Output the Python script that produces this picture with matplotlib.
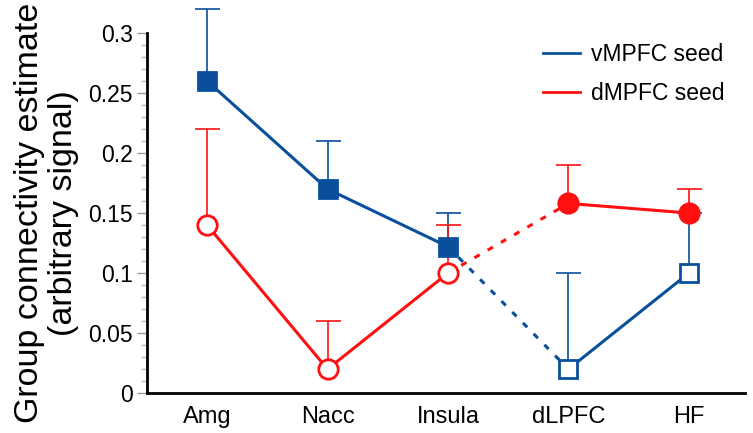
import matplotlib.pyplot as plt
import numpy as np
from matplotlib.ticker import MultipleLocator

plt.rcParams['font.family'] = ['Liberation Sans', 'DejaVu Sans']

regions = ['Amg', 'Nacc', 'Insula', 'dLPFC', 'HF']
vmpfc = [0.26, 0.17, 0.122, 0.02, 0.10]
vmpfc_top = [0.32, 0.21, 0.15, 0.10, 0.15]
dmpfc = [0.14, 0.02, 0.10, 0.158, 0.15]
dmpfc_top = [0.22, 0.06, 0.14, 0.19, 0.17]

blue = '#0a4f9c'
red = '#ff1010'

fig = plt.figure(figsize=(7.53, 4.33), dpi=100)
ax = fig.add_axes([0.195, 0.092, 0.795, 0.832])
x = np.arange(len(regions))

def draw_series(vals, tops, col, mk, msize, filled_first):
    vals = np.array(vals)
    tops = np.array(tops)
    # only the upper half of each error bar is shown
    eb = ax.errorbar(x, vals, yerr=[np.zeros(len(vals)), tops - vals], fmt='none',
                     ecolor=col, elinewidth=1.2, capsize=9, capthick=1.2, zorder=1)
    eb[1][0].set_visible(False)
    eb[1][1].set_clip_on(False)
    for c in eb[2]:
        c.set_clip_on(False)
    ax.plot(x[:3], vals[:3], color=col, lw=2.2, zorder=2)
    ax.plot(x[2:4], vals[2:4], color=col, lw=2.2, ls=(0, (2, 3)), zorder=2)
    ax.plot(x[3:], vals[3:], color=col, lw=2.2, zorder=2)
    for i in range(len(vals)):
        filled = (i < 3) == filled_first
        ax.plot(x[i], vals[i], marker=mk, ms=msize, mec=col, mew=2,
                mfc=col if filled else 'white', zorder=3)

draw_series(vmpfc, vmpfc_top, blue, 's', 13, True)
draw_series(dmpfc, dmpfc_top, red, 'o', 14, False)
# filled red circles sit over the blue HF error bar
ax.plot(x[3:], dmpfc[3:], 'o', ms=14, color=red, zorder=4)

ax.plot([], [], color=blue, lw=2, label='vMPFC seed')
ax.plot([], [], color=red, lw=2, label='dMPFC seed')
ax.legend(loc='upper right', frameon=False, fontsize=16.5, handlelength=1.6,
          handletextpad=0.5, bbox_to_anchor=(1.0, 1.03), labelspacing=0.7)

ax.set_xlim(-0.5, 4.47)
ax.set_ylim(0, 0.3)
ax.set_xticks(x)
ax.set_xticklabels(regions, fontsize=17)
ax.tick_params(axis='x', length=0, pad=9)
ax.yaxis.set_minor_locator(MultipleLocator(0.01))
ax.set_yticks([0, 0.05, 0.1, 0.15, 0.2, 0.25, 0.3])
ax.set_yticklabels(['0', '0.05', '0.1', '0.15', '0.2', '0.25', '0.3'], fontsize=16.5)
ax.tick_params(axis='y', which='major', length=7, color='#999999', width=1, pad=3)
ax.tick_params(axis='y', which='minor', length=4, color='#bbbbbb', width=1)
for s in ['top', 'right']:
    ax.spines[s].set_visible(False)
for s in ['left', 'bottom']:
    ax.spines[s].set_linewidth(2)
ax.set_ylabel('Group connectivity estimate\n(arbitrary signal)', fontsize=24.5,
              linespacing=1.1, labelpad=7)

fig.savefig('out.png', dpi=100)
